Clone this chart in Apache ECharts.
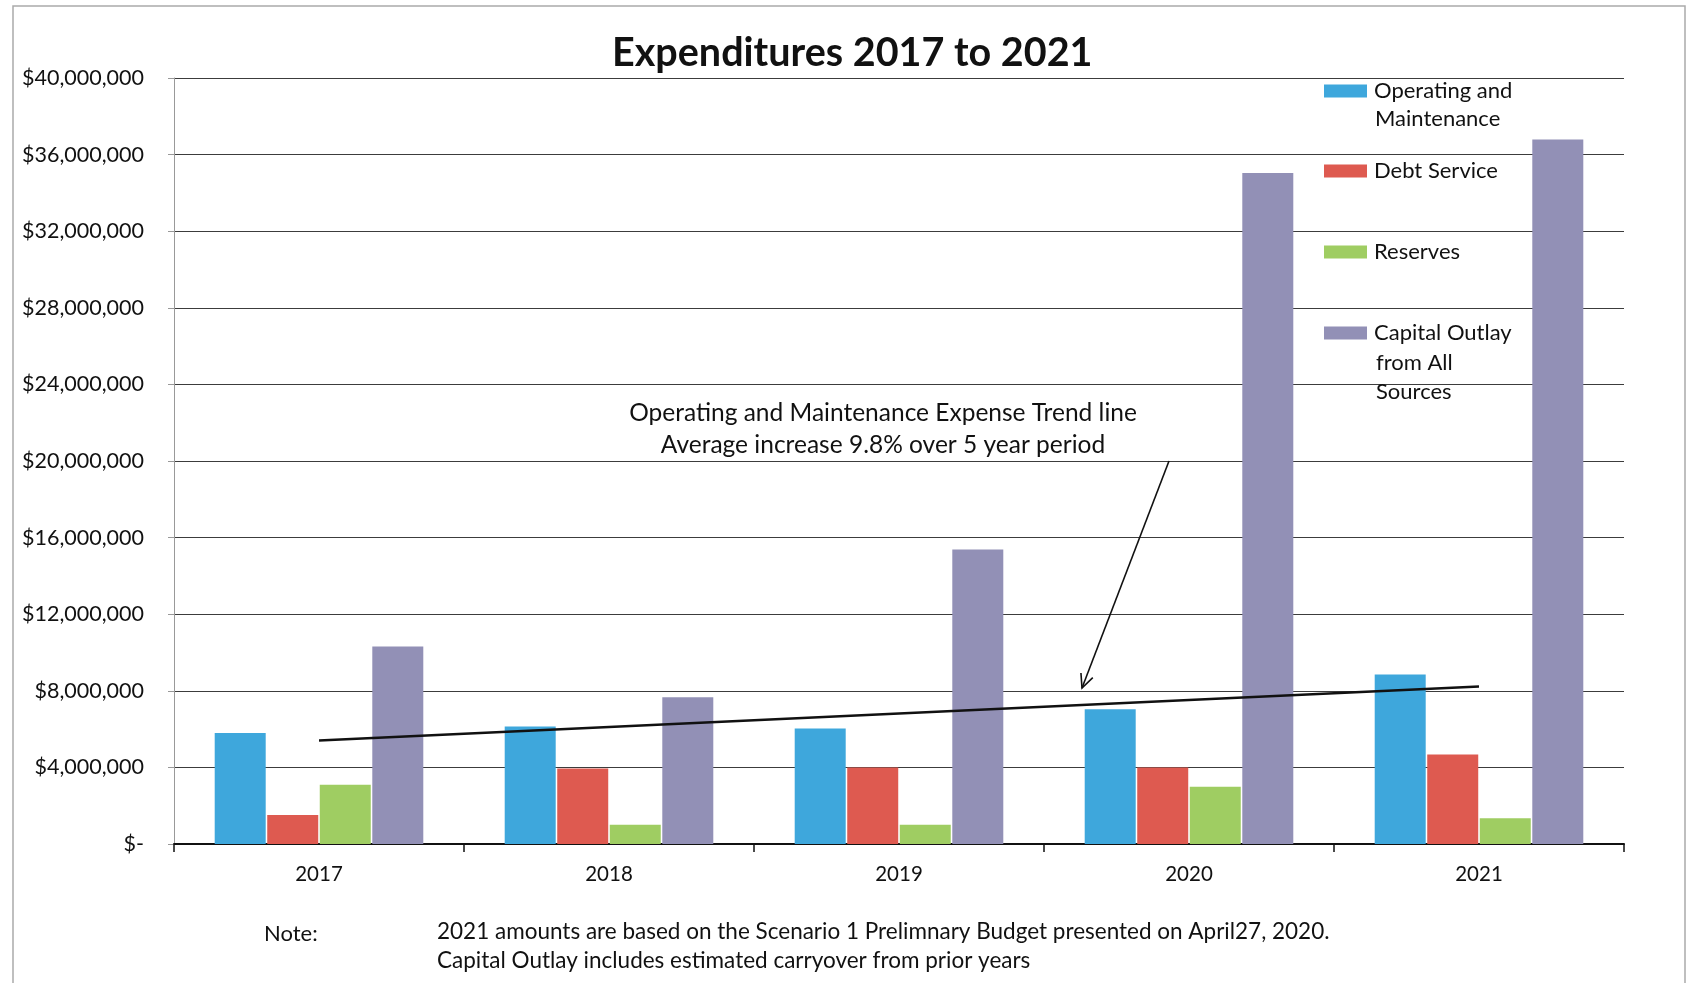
<!DOCTYPE html>
<html>
<head>
<meta charset="utf-8">
<title>Expenditures 2017 to 2021</title>
<script src="https://cdn.jsdelivr.net/npm/echarts@6/dist/echarts.min.js"></script>
<style>
  html, body { margin: 0; padding: 0; background: #fff; }
  #expenditures { width: 1693px; height: 983px; }
</style>
</head>
<body>
<div id="expenditures"></div>
<script>
/* data */
var years = ['2017', '2018', '2019', '2020', '2021'];
var opMaint = [5800000, 6140000, 6030000, 7040000, 8850000];
var debtService = [1520000, 3940000, 4000000, 4000000, 4680000];
var reserves = [3100000, 1010000, 1010000, 2990000, 1350000];
var capitalOutlay = [10310000, 7660000, 15380000, 35040000, 36790000];
// trend line end points (2017 and 2021)
var trendLine = [5410000, null, null, null, 8230000];

var seriesNames = ['Operating and Maintenance', 'Debt Service', 'Reserves', 'Capital Outlay from All Sources'];
var seriesColors = ['#3ea7dc', '#de5a50', '#9fcd62', '#9290b6'];

var annotationLines = ['Operating and Maintenance Expense Trend line', 'Average increase 9.8% over 5 year period'];
var noteLines = ['2021 amounts are based on the Scenario 1 Prelimnary Budget presented on April27, 2020.',
  'Capital Outlay includes estimated carryover from prior years'];

var FONT = 'Lato';

function expenditures(){
  var chart = echarts.init(document.getElementById('expenditures'));

  var values = [opMaint, debtService, reserves, capitalOutlay];
  var series = [];
  for (var i = 0; i < values.length; i++) {
    series.push({
      name: seriesNames[i],
      type: 'bar',
      data: values[i],
      barWidth: 51,
      barGap: '3%',
      itemStyle: { color: seriesColors[i] }
    });
  }
  series.push({
    name: 'Trend',
    type: 'line',
    data: trendLine,
    connectNulls: true,
    showSymbol: false,
    symbol: 'none',
    lineStyle: { color: '#111', width: 2.5 },
    z: 5
  });

  // legend: one block per item so the spacing follows the reference
  var legendTops = [79, 159, 240, 321];
  var legendFirst = ['Operating and', 'Debt Service', 'Reserves', 'Capital Outlay'];
  var legends = [];
  for (var j = 0; j < seriesNames.length; j++) {
    legends.push({
      data: [seriesNames[j]],
      left: 1324,
      top: legendTops[j],
      padding: 0,
      itemWidth: 43,
      itemHeight: 13,
      itemGap: 8,
      icon: 'rect',
      selectedMode: false,
      formatter: (function(k){ return function(){ return legendFirst[k]; }; })(j),
      textStyle: { fontFamily: FONT, fontSize: 22, color: '#111', lineHeight: 24, padding: [0, 0, 0, 2] }
    });
  }

  // arrow from the annotation to the trend line
  var tail = [1169, 461], tip = [1082, 688];
  var dx = tail[0] - tip[0], dy = tail[1] - tip[1];
  var len = Math.sqrt(dx * dx + dy * dy);
  var ux = dx / len, uy = dy / len;
  var ang = 25 * Math.PI / 180, head = 15;
  var w1 = [tip[0] + head * (ux * Math.cos(ang) - uy * Math.sin(ang)), tip[1] + head * (ux * Math.sin(ang) + uy * Math.cos(ang))];
  var w2 = [tip[0] + head * (ux * Math.cos(-ang) - uy * Math.sin(-ang)), tip[1] + head * (ux * Math.sin(-ang) + uy * Math.cos(-ang))];

  var txt = function(x, y, text, size, align){
    return {
      type: 'text', x: x, y: y, z: 10,
      style: { text: text, fontFamily: FONT, fontSize: size, fill: '#111', align: align || 'left', verticalAlign: 'middle' }
    };
  };

  var option = {
    backgroundColor: '#fff',
    animation: false,
    title: {
      text: 'Expenditures 2017 to 2021',
      left: 612,
      top: 33,
      padding: 0,
      textStyle: { fontFamily: FONT, fontSize: 39.5, fontWeight: 'bold', color: '#111' }
    },
    legend: legends,
    grid: { left: 174, right: 69, top: 78, bottom: 139, containLabel: false },
    xAxis: {
      type: 'category',
      data: years,
      axisLine: { lineStyle: { color: '#111', width: 2 } },
      axisTick: { show: true, length: 8, lineStyle: { color: '#111', width: 1.5 } },
      axisLabel: { fontFamily: FONT, fontSize: 20.5, color: '#111', margin: 20 },
      splitLine: { show: false }
    },
    yAxis: {
      type: 'value',
      min: 0,
      max: 40000000,
      interval: 4000000,
      axisLine: { show: true, lineStyle: { color: '#999', width: 1 } },
      axisTick: { show: true, length: 6, lineStyle: { color: '#999' } },
      axisLabel: {
        fontFamily: FONT, fontSize: 21.5, color: '#111', margin: 30,
        formatter: function(v){ return v === 0 ? '$-' : '$' + v.toLocaleString('en-US'); }
      },
      splitLine: { lineStyle: { color: '#3c3c3c', width: 1.2 } }
    },
    series: series,
    graphic: [
      { type: 'rect', shape: { x: 13, y: 6, width: 1672, height: 1000 }, style: { fill: 'none', stroke: '#aaa', lineWidth: 1.5 }, z: -1 },
      txt(883, 413, annotationLines[0], 24.5, 'center'),
      txt(883, 445, annotationLines[1], 24.5, 'center'),
      { type: 'line', shape: { x1: tail[0], y1: tail[1], x2: tip[0], y2: tip[1] }, style: { stroke: '#111', lineWidth: 1.6 }, z: 10 },
      { type: 'polyline', shape: { points: [w1, tip, w2] }, style: { stroke: '#111', lineWidth: 1.6, fill: null }, z: 10 },
      txt(1375, 119, 'Maintenance', 22),
      txt(1376, 363, 'from All', 22),
      txt(1376, 392, 'Sources', 22),
      txt(264, 934, 'Note:', 22),
      txt(437, 932, noteLines[0], 22.5),
      txt(437, 961, noteLines[1], 22.5)
    ]
  };

  chart.setOption(option);
  window.addEventListener('resize', function(){
    chart.resize();
  });
}

expenditures();
</script>
</body>
</html>
